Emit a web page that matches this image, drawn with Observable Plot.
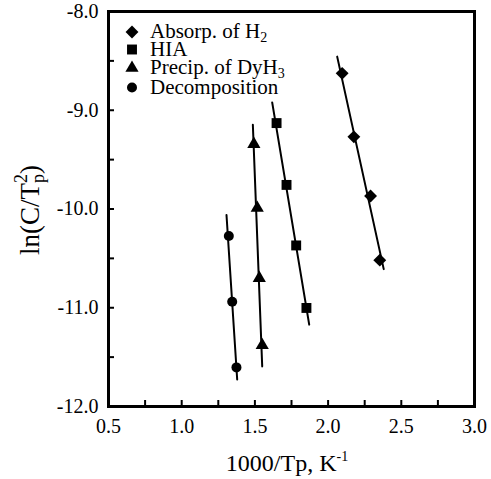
<!DOCTYPE html>
<html><head><meta charset="utf-8">
<script src="https://cdn.jsdelivr.net/npm/d3@7"></script>
<script src="https://cdn.jsdelivr.net/npm/@observablehq/plot@0.6"></script>
<style>body{margin:0;background:#fff} #chart{width:491px;height:479px}</style>
</head><body><div id="chart"></div>
<script>
// ---- data ----
const seriesNames = ["Absorp. of H", "HIA", "Precip. of DyH", "Decomposition"];
const seriesSubs = ["2", "", "3", ""];
const seriesSymbols = ["diamond2", "square", "triangle", "circle"];

const absorpX = [2.096, 2.176, 2.290, 2.353];
const absorpY = [-8.626, -9.269, -9.868, -10.518];
const hiaX = [1.648, 1.716, 1.782, 1.852];
const hiaY = [-9.130, -9.756, -10.369, -11.002];
const precipX = [1.493, 1.516, 1.530, 1.550];
const precipY = [-9.343, -9.990, -10.700, -11.380];
const decompX = [1.322, 1.345, 1.374];
const decompY = [-10.274, -10.940, -11.604];

// fitted straight lines (end points)
const absorpLineX = [2.062, 2.380];
const absorpLineY = [-8.457, -10.609];
const hiaLineX = [1.618, 1.871];
const hiaLineY = [-8.921, -11.171];
const precipLineX = [1.486, 1.550];
const precipLineY = [-9.147, -11.594];
const decompLineX = [1.306, 1.379];
const decompLineY = [-10.061, -11.726];

const xMajor = [0.5, 1.0, 1.5, 2.0, 2.5, 3.0];
const xMinor = [0.75, 1.25, 1.75, 2.25, 2.75];
const yMajor = [-8, -9, -10, -11, -12];
const yMinor = [-8.5, -9.5, -10.5, -11.5];

// ---- build ----
const pointsX = [absorpX, hiaX, precipX, decompX];
const pointsY = [absorpY, hiaY, precipY, decompY];
const linesX = [absorpLineX, hiaLineX, precipLineX, decompLineX];
const linesY = [absorpLineY, hiaLineY, precipLineY, decompLineY];
const symbolR = [5.8, 5.6, 4.9, 5.0];

const pts = (i) => pointsX[i].map((x, j) => ({x, y: pointsY[i][j]}));
const lns = (i) => linesX[i].map((x, j) => ({x, y: linesY[i][j]}));

const fmt = d => d.toFixed(1);
const font = "'Liberation Serif', 'Times New Roman', serif";

const marks = [
  Plot.axisX(xMajor, {tickSize: -6, tickPadding: 18, tickFormat: fmt, label: null, strokeWidth: 2, fontSize: 20}),
  Plot.axisX(xMinor, {tickSize: -6, tickFormat: () => "", label: null, strokeWidth: 2}),
  Plot.axisY(yMajor, {tickSize: -6, tickPadding: 16, tickFormat: fmt, label: null, strokeWidth: 2, fontSize: 20}),
  Plot.axisY(yMinor, {tickSize: -6, tickFormat: () => "", label: null, strokeWidth: 2}),
];
for (let i = 0; i < 4; i++) {
  marks.push(Plot.line(lns(i), {x: "x", y: "y", stroke: "black", strokeWidth: 2}));
  marks.push(Plot.dot(pts(i), {x: "x", y: "y", symbol: () => seriesSymbols[i], r: symbolR[i], fill: "black", stroke: "none"}));
}
marks.push(Plot.frame({stroke: "black", strokeWidth: 3}));

const chart = Plot.plot({
  width: 491, height: 479,
  marginLeft: 108, marginRight: 17, marginTop: 11, marginBottom: 73,
  x: {domain: [0.5, 3]},
  y: {domain: [-12, -8]},
  symbol: {type: "identity"},
  style: {fontFamily: font, fontSize: "20px", color: "black", background: "white"},
  marks
});
document.getElementById("chart").append(chart);

const svg = d3.select(chart);

// legend
const legX = 132, legTextX = 150;
const legY = [32, 49.5, 68, 87.5];
const legBase = [38, 56, 74, 94];
const symMap = {diamond2: d3.symbolDiamond2, square: d3.symbolSquare, triangle: d3.symbolTriangle, circle: d3.symbolCircle};
const leg = svg.append("g").attr("font-family", font).attr("font-size", 21).attr("text-anchor", "start");
seriesNames.forEach((name, i) => {
  leg.append("path")
    .attr("d", d3.symbol(symMap[seriesSymbols[i]], Math.PI * symbolR[i] * symbolR[i])())
    .attr("transform", `translate(${legX},${legY[i]})`)
    .attr("fill", "black");
  const t = leg.append("text").attr("x", legTextX).attr("y", legBase[i]).attr("fill", "black");
  t.append("tspan").text(name);
  if (seriesSubs[i]) t.append("tspan").attr("font-size", 14).attr("dy", 4).text(seriesSubs[i]);
});

// x title
const xt = svg.append("text").attr("x", 287).attr("y", 471).attr("text-anchor", "middle")
  .attr("font-family", font).attr("font-size", 24).attr("fill", "black");
xt.append("tspan").text("1000/Tp, K");
xt.append("tspan").attr("font-size", 14).attr("dy", -10).text("-1");

// y title
const yt = svg.append("text").attr("transform", "translate(39,210) rotate(-90)").attr("text-anchor", "middle")
  .attr("font-family", font).attr("font-size", 27).attr("fill", "black");
yt.append("tspan").text("ln(C/T");
yt.append("tspan").attr("font-size", 18).attr("dy", 5).text("p");
yt.append("tspan").attr("font-size", 18).attr("dx", -9).attr("dy", -17).text("2");
yt.append("tspan").attr("dy", 12).text(")");
</script>
</body></html>
